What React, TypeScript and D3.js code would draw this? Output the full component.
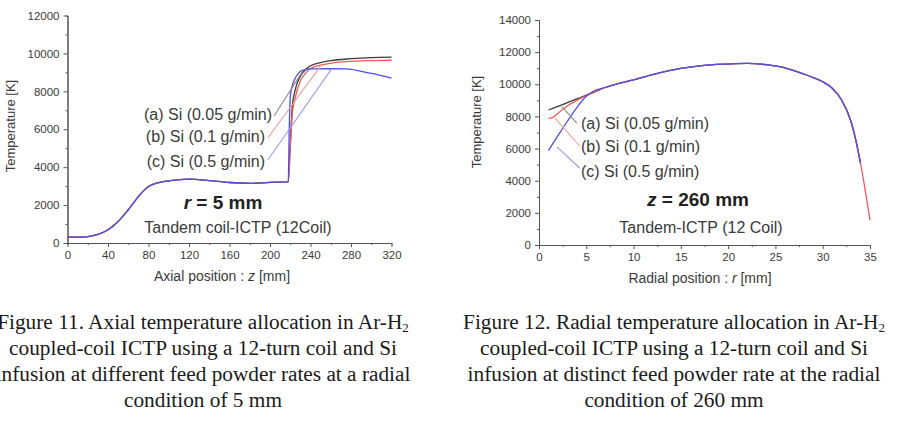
import React, { useRef, useEffect } from "react";
import * as d3 from "d3";

const W = 902;
const H = 428;

// Fig. 11 -- axial temperature at r = 5 mm (z in mm, T in K)
const axialBaseZ = [0, 10, 20, 30, 40, 50, 60, 70, 80, 90, 100, 120, 140, 160, 180, 200, 218];
const axialBaseT = [310, 310, 340, 450, 700, 1130, 1750, 2450, 2980, 3190, 3280, 3370, 3290, 3190, 3150, 3200, 3220];
const axialTailZ = [220, 222, 225, 230, 235, 240, 250, 260, 280, 300, 320];
const axialTailA = [5200, 7200, 8100, 8800, 9150, 9350, 9520, 9620, 9720, 9780, 9800];
const axialTailB = [5000, 6800, 7700, 8550, 8950, 9200, 9380, 9480, 9580, 9620, 9640];
const axialTailCZ = [219, 220, 222, 225, 228, 232, 240, 260, 276, 290, 305, 320];
const axialTailC = [6000, 7700, 8300, 8700, 8950, 9100, 9180, 9190, 9180, 9050, 8900, 8700];

// Fig. 12 -- radial temperature at z = 260 mm (r in mm, T in K)
const radialSharedR = [7, 8, 10, 12, 15, 17, 20, 22, 24, 26, 28, 29, 30, 31, 32, 33, 33.5, 34];
const radialSharedT = [9800, 9980, 10270, 10600, 10990, 11150, 11260, 11300, 11220, 11020, 10640, 10420, 10160, 9750, 9020, 7670, 6530, 5080];
const radialAR = [1, 2, 3, 4, 5, 6];
const radialAT = [8400, 8620, 8860, 9090, 9320, 9560];
const radialBR = [1, 1.5, 2, 3, 4, 5, 6];
const radialBT = [7880, 7950, 8200, 8650, 9000, 9290, 9560];
const radialCR = [1, 2, 3, 4, 5, 6];
const radialCT = [5880, 6800, 7700, 8550, 9250, 9640];
const radialBEdgeR = [35];
const radialBEdgeT = [1550];

const legendLabels = ["(a) Si (0.05 g/min)", "(b) Si (0.1 g/min)", "(c) Si (0.5 g/min)"];

// pointer lines from each label to its curve: [x1, T1, x2, T2]
const axialPointers = [
  [204, 6700, 232, 9040],
  [198, 5550, 251, 9410],
  [198, 4390, 261, 9200],
];
const radialPointers = [
  [4.0, 7590, 2.45, 8590],
  [4.3, 6160, 1.7, 7900],
  [4.3, 4790, 1.9, 6100],
];

const BLACK = "#3c3c3c";
const RED = "#f05a5a";
const BLUE = "#4f4fe6";
const POINTER_COLORS = ["#8a8a8a", "#f49a9a", "#9a9af4"];
const TEXT = "#3a3a3a";
const FONT = "Arial, 'Liberation Sans', sans-serif";
const SERIF = "'Times New Roman', 'Liberation Serif', serif";

const zip = (xs: number[], ys: number[]) => xs.map((x, i) => [x, ys[i]] as [number, number]);

function drawPanel(svg: any, p: any) {
  const x = d3.scaleLinear().domain(p.xDomain).range([p.left, p.right]);
  const y = d3.scaleLinear().domain(p.yDomain).range([p.bottom, p.top]);
  const g = svg.append("g");

  // minor ticks
  g.append("g")
    .attr("transform", `translate(0,${p.bottom})`)
    .call(d3.axisBottom(x).tickValues(p.xMinor).tickSize(2).tickFormat(() => ""));
  g.append("g")
    .attr("transform", `translate(${p.left},0)`)
    .call(d3.axisLeft(y).tickValues(p.yMinor).tickSize(2).tickFormat(() => ""));

  const xAxis = g
    .append("g")
    .attr("transform", `translate(0,${p.bottom})`)
    .call(
      d3.axisBottom(x).tickValues(p.xTicks).tickSize(4).tickPadding(4).tickSizeOuter(0).tickFormat(d3.format("d"))
    );
  const yAxis = g
    .append("g")
    .attr("transform", `translate(${p.left},0)`)
    .call(
      d3.axisLeft(y).tickValues(p.yTicks).tickSize(4).tickPadding(4).tickSizeOuter(0).tickFormat(d3.format("d"))
    );

  g.selectAll(".domain, .tick line").attr("stroke", "#555").attr("stroke-width", 1);
  [xAxis, yAxis].forEach((a) =>
    a.selectAll("text").attr("font-family", FONT).attr("font-size", 11.5).attr("fill", TEXT)
  );

  // axis titles
  const xt = g
    .append("text")
    .attr("x", p.xTitleX)
    .attr("y", p.xTitleY)
    .attr("text-anchor", "middle")
    .attr("font-family", FONT)
    .attr("font-size", 14)
    .attr("fill", TEXT);
  xt.append("tspan").text(p.xTitle[0]);
  xt.append("tspan").attr("font-style", "italic").text(p.xTitle[1]);
  xt.append("tspan").text(p.xTitle[2]);

  g.append("text")
    .attr("transform", `translate(${p.yTitleX},${p.yTitleY}) rotate(-90)`)
    .attr("text-anchor", "middle")
    .attr("dy", "0.35em")
    .attr("font-family", FONT)
    .attr("font-size", 13)
    .attr("fill", TEXT)
    .text("Temperature [K]");

  // curves
  const line = d3
    .line<[number, number]>()
    .x((d) => x(d[0]))
    .y((d) => y(d[1]))
    .curve(d3.curveMonotoneX);
  p.series.forEach((s: any) => {
    g.append("path")
      .datum(s.points)
      .attr("fill", "none")
      .attr("stroke", s.color)
      .attr("stroke-width", 1.3)
      .attr("stroke-linejoin", "round")
      .attr("d", line);
  });

  // labels and pointers
  p.pointers.forEach((q: number[], i: number) => {
    g.append("line")
      .attr("x1", x(q[0]))
      .attr("y1", y(q[1]))
      .attr("x2", x(q[2]))
      .attr("y2", y(q[3]))
      .attr("stroke", POINTER_COLORS[i])
      .attr("stroke-width", 1.1);
  });
  legendLabels.forEach((t, i) => {
    g.append("text")
      .attr("x", p.labelX[i])
      .attr("y", p.labelY[i])
      .attr("text-anchor", p.labelAnchor)
      .attr("font-family", FONT)
      .attr("font-size", 16)
      .attr("fill", TEXT)
      .text(t);
  });

  const cond = g
    .append("text")
    .attr("x", p.condX)
    .attr("y", p.condY)
    .attr("text-anchor", "middle")
    .attr("font-family", FONT)
    .attr("font-size", 19)
    .attr("font-weight", "bold")
    .attr("fill", "#222");
  cond.append("tspan").attr("font-style", "italic").text(p.cond[0]);
  cond.append("tspan").text(p.cond[1]);

  g.append("text")
    .attr("x", p.deviceX)
    .attr("y", p.deviceY)
    .attr("text-anchor", "middle")
    .attr("font-family", FONT)
    .attr("font-size", 16)
    .attr("fill", TEXT)
    .text(p.device);

  // caption
  const cap = svg
    .append("text")
    .attr("text-anchor", "middle")
    .attr("font-family", SERIF)
    .attr("font-size", 21.3)
    .attr("fill", "#1a1a1a");
  p.caption.forEach((ln: string, i: number) => {
    const t = cap.append("tspan").attr("x", p.captionX).attr("y", 329 + i * 26);
    t.text(ln);
    if (i === 0) {
      cap.append("tspan").attr("font-size", 13).attr("dy", 3).text("2");
    }
  });
}

export default function App() {
  const ref = useRef<SVGSVGElement>(null);

  useEffect(() => {
    const svg = d3.select(ref.current);
    svg.selectAll("*").remove();

    drawPanel(svg, {
      left: 67.5,
      right: 391.5,
      top: 15.5,
      bottom: 243,
      xDomain: [0, 320],
      yDomain: [0, 12000],
      xTicks: d3.range(0, 321, 40),
      xMinor: d3.range(20, 320, 40),
      yTicks: d3.range(0, 12001, 2000),
      yMinor: d3.range(1000, 12000, 2000),
      xTitle: ["Axial position : ", "z", " [mm]"],
      xTitleX: 222,
      xTitleY: 281,
      yTitleX: 10,
      yTitleY: 126,
      series: [
        { color: BLACK, points: zip(axialBaseZ.concat(axialTailZ), axialBaseT.concat(axialTailA)) },
        { color: RED, points: zip(axialBaseZ.concat(axialTailZ), axialBaseT.concat(axialTailB)) },
        { color: BLUE, points: zip(axialBaseZ.concat(axialTailCZ), axialBaseT.concat(axialTailC)) },
      ],
      pointers: axialPointers,
      labelX: [272, 265, 265],
      labelY: [120, 142, 167],
      labelAnchor: "end",
      cond: ["r", " = 5 mm"],
      condX: 223,
      condY: 209,
      device: "Tandem coil-ICTP (12Coil)",
      deviceX: 238,
      deviceY: 233,
      captionX: 203,
      caption: [
        "Figure 11. Axial temperature allocation in Ar-H",
        "coupled-coil ICTP using a 12-turn coil and Si",
        "infusion at different feed powder rates at a radial",
        "condition of 5 mm",
      ],
    });

    drawPanel(svg, {
      left: 539,
      right: 870,
      top: 20,
      bottom: 245,
      xDomain: [0, 35],
      yDomain: [0, 14000],
      xTicks: d3.range(0, 36, 5),
      xMinor: d3.range(2.5, 35, 5),
      yTicks: d3.range(0, 14001, 2000),
      yMinor: d3.range(1000, 14000, 2000),
      xTitle: ["Radial position : ", "r", " [mm]"],
      xTitleX: 700,
      xTitleY: 283,
      yTitleX: 476,
      yTitleY: 122,
      series: [
        { color: BLACK, points: zip(radialAR.concat(radialSharedR), radialAT.concat(radialSharedT)) },
        {
          color: RED,
          points: zip(
            radialBR.concat(radialSharedR, radialBEdgeR),
            radialBT.concat(radialSharedT, radialBEdgeT)
          ),
        },
        { color: BLUE, points: zip(radialCR.concat(radialSharedR), radialCT.concat(radialSharedT)) },
      ],
      pointers: radialPointers,
      labelX: [581, 581, 581],
      labelY: [129, 152, 177],
      labelAnchor: "start",
      cond: ["z", " = 260 mm"],
      condX: 698,
      condY: 206,
      device: "Tandem-ICTP (12 Coil)",
      deviceX: 701,
      deviceY: 233,
      captionX: 674,
      caption: [
        "Figure 12. Radial temperature allocation in Ar-H",
        "coupled-coil ICTP using a 12-turn coil and Si",
        "infusion at distinct feed powder rate at the radial",
        "condition of 260 mm",
      ],
    });
  }, []);

  return (
    <svg
      ref={ref}
      width={W}
      height={H}
      style={{ position: "absolute", left: 0, top: 0, background: "#fff" }}
    />
  );
}
